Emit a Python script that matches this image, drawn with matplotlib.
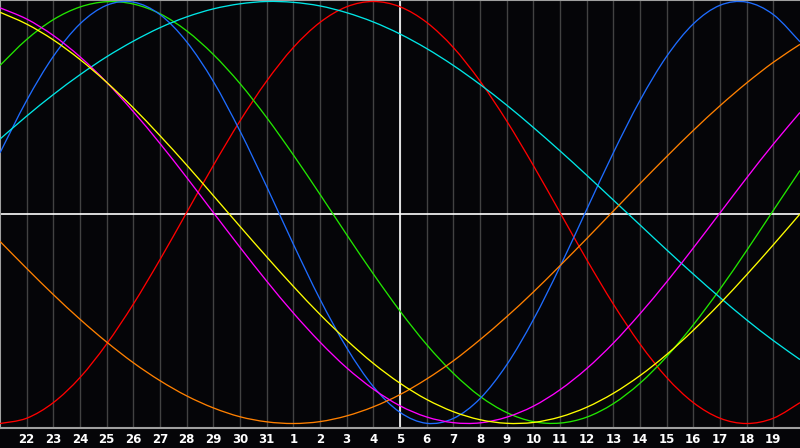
import matplotlib
matplotlib.use("Agg")
import matplotlib.pyplot as plt
from matplotlib.path import Path
from matplotlib.patches import PathPatch

# Day labels (x categories); index 0 = day 21, index 30 = day 20 of next month
day_labels = ["22", "23", "24", "25", "26", "27", "28", "29", "30", "31",
              "1", "2", "3", "4", "5", "6", "7", "8", "9", "10",
              "11", "12", "13", "14", "15", "16", "17", "18", "19"]
day_index = list(range(31))
today_index = 15

# Daily values (-1 .. 1)
blue = [0.283, 0.531, 0.740, 0.894, 0.982, 0.997, 0.938, 0.809, 0.621, 0.386,
        0.123, -0.150, -0.411, -0.641, -0.825, -0.947, -0.999, -0.976, -0.882, -0.722,
        -0.508, -0.257, 0.014, 0.283, 0.531, 0.740, 0.894, 0.982, 0.997, 0.938, 0.809]
red = [-1.000, -0.975, -0.901, -0.782, -0.623, -0.434, -0.223, 0.000, 0.223, 0.434,
       0.623, 0.782, 0.901, 0.975, 1.000, 0.975, 0.901, 0.782, 0.623, 0.434,
       0.223, 0.000, -0.223, -0.434, -0.623, -0.782, -0.901, -0.975, -1.000, -0.975, -0.901]
green = [0.697, 0.820, 0.914, 0.974, 0.999, 0.988, 0.942, 0.861, 0.749, 0.611,
         0.450, 0.273, 0.086, -0.105, -0.291, -0.467, -0.626, -0.762, -0.871, -0.948,
         -0.991, -0.998, -0.970, -0.906, -0.809, -0.683, -0.532, -0.363, -0.180, 0.010, 0.199]
magenta = [0.970, 0.917, 0.839, 0.738, 0.617, 0.478, 0.327, 0.166, 0.000, -0.165,
           -0.325, -0.476, -0.614, -0.736, -0.837, -0.916, -0.969, -0.996, -0.997, -0.970,
           -0.918, -0.840, -0.740, -0.619, -0.480, -0.329, -0.168, -0.002, 0.164, 0.324, 0.474]
yellow = [0.949, 0.893, 0.818, 0.725, 0.617, 0.496, 0.364, 0.225, 0.080, -0.066,
          -0.210, -0.350, -0.483, -0.605, -0.715, -0.809, -0.886, -0.944, -0.982, -0.999,
          -0.995, -0.969, -0.923, -0.857, -0.773, -0.673, -0.558, -0.431, -0.295, -0.153, -0.007]
orange = [-0.137, -0.265, -0.389, -0.506, -0.614, -0.712, -0.797, -0.869, -0.926, -0.968,
          -0.992, -1.000, -0.991, -0.964, -0.921, -0.863, -0.789, -0.703, -0.603, -0.494,
          -0.377, -0.252, -0.124, 0.007, 0.137, 0.265, 0.389, 0.506, 0.614, 0.712, 0.797]
cyan = [0.348, 0.457, 0.559, 0.653, 0.738, 0.812, 0.876, 0.927, 0.965, 0.989,
        1.000, 0.996, 0.979, 0.947, 0.903, 0.846, 0.777, 0.697, 0.607, 0.509,
        0.403, 0.292, 0.177, 0.059, -0.059, -0.177, -0.292, -0.403, -0.509, -0.607, -0.697]

series = [
    (red, "#ff0000"),
    (green, "#22e600"),
    (blue, "#1e6cff"),
    (cyan, "#00e6e6"),
    (orange, "#ff8000"),
    (magenta, "#ff00ff"),
    (yellow, "#ffff00"),
]


def smooth_path(xs, ys):
    """Smooth (Catmull-Rom style) Bezier path through the given points."""
    n = len(xs)
    verts = [(xs[0], ys[0])]
    codes = [Path.MOVETO]
    for i in range(n - 1):
        i0 = max(i - 1, 0)
        i3 = min(i + 2, n - 1)
        c1 = (xs[i] + (xs[i + 1] - xs[i0]) / 6.0, ys[i] + (ys[i + 1] - ys[i0]) / 6.0)
        c2 = (xs[i + 1] - (xs[i3] - xs[i]) / 6.0, ys[i + 1] - (ys[i3] - ys[i]) / 6.0)
        verts += [c1, c2, (xs[i + 1], ys[i + 1])]
        codes += [Path.CURVE4, Path.CURVE4, Path.CURVE4]
    return Path(verts, codes)


bg = "#050508"
fig = plt.figure(figsize=(8.0, 4.48), dpi=100, facecolor=bg)
ax = fig.add_axes([0.0, 20 / 448, 1.0, 428 / 448])
ax.set_facecolor(bg)

ax.set_xlim(0, 30)
ax.set_ylim(-1.0213, 1.0071)

# vertical day grid
for i in range(1, 30):
    ax.axvline(i, color="#424242", lw=1.0, zorder=1)

ax.axhline(-0.006, color="#ffffff", lw=1.2, zorder=2)
ax.axvline(today_index, color="#ffffff", lw=1.2, zorder=2)

for vals, col in series:
    ax.add_patch(PathPatch(smooth_path(day_index, vals), facecolor="none",
                           edgecolor=col, lw=0.95, zorder=3))

ax.set_xticks(range(1, 30))
ax.set_xticklabels(day_labels, color="white", fontsize=8.5, fontweight="bold",
                   family="DejaVu Sans")
ax.tick_params(axis="x", length=0, pad=3.5)
ax.set_yticks([])

for s in ["left", "top", "bottom"]:
    ax.spines[s].set_color("#a0a0a0")
    ax.spines[s].set_linewidth(1.5)
ax.spines["right"].set_visible(False)

fig.savefig("out.png", dpi=100, facecolor=bg)
